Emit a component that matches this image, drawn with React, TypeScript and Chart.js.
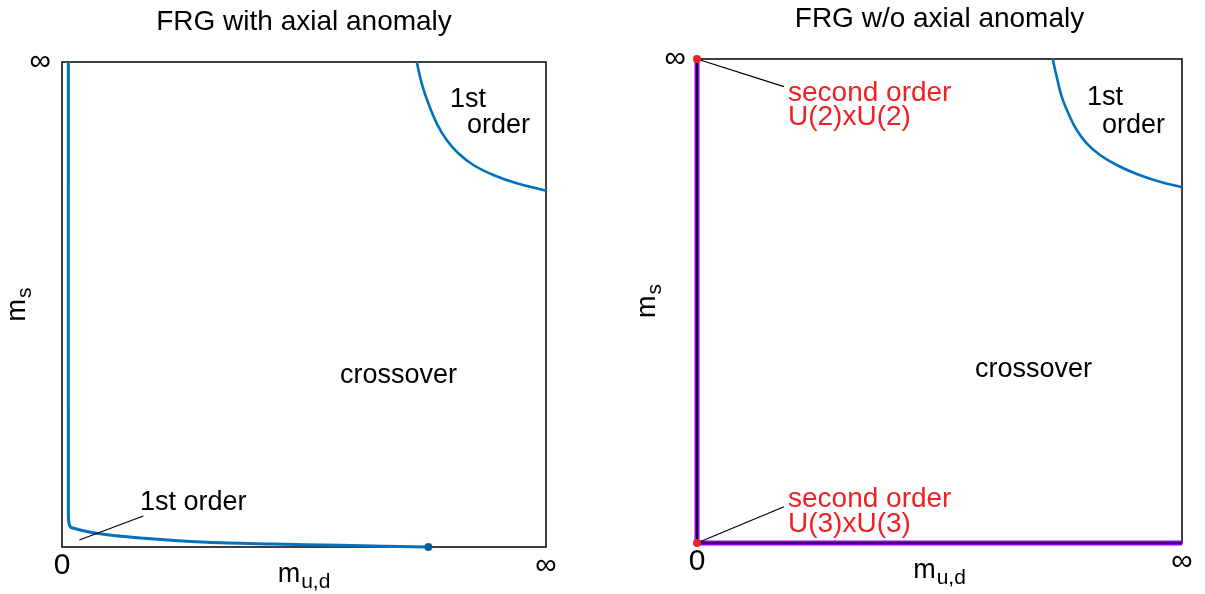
import { useEffect, useRef } from 'react';
import { Chart, registerables } from 'chart.js';

Chart.register(...registerables);
Chart.defaults.font.family = '"Liberation Sans", Arial, Helvetica, sans-serif';

// ---- tick labels (shared) ----
const xTickValues = [0, 1];
const xTickLabels = ['0', '∞'];
const yTickValues = [0, 1];
const yTickLabels = ['', '∞'];

// ---- left panel: FRG with axial anomaly ----
const leftLowerX = [0.0131, 0.0131, 0.0142, 0.0165, 0.02, 0.0717, 0.161, 0.299, 0.436, 0.574, 0.757];
const leftLowerY = [1.0, 0.07, 0.05, 0.043, 0.0398, 0.0282, 0.0186, 0.0097, 0.0062, 0.0035, 0.0];
const leftEndX = [0.757];
const leftEndY = [0.0];
const leftUpperX = [0.7329, 0.7432, 0.7568, 0.7742, 0.7948, 0.8188, 0.8498, 0.8911, 0.9395, 1.0];
const leftUpperY = [1.0, 0.956, 0.9148, 0.8736, 0.8392, 0.8118, 0.7876, 0.767, 0.7499, 0.7346];
const leftLeaderX = [0.0357, 0.168];
const leftLeaderY = [0.0144, 0.0639];

// ---- right panel: FRG w/o axial anomaly ----
const rightUpperX = [0.7334, 0.7416, 0.752, 0.7656, 0.7829, 0.8035, 0.8309, 0.8653, 0.9066, 0.9546, 1.0];
const rightUpperY = [1.0, 0.9635, 0.9221, 0.8878, 0.8533, 0.8258, 0.8017, 0.781, 0.7624, 0.7465, 0.7349];
const rightEdgeX = [0, 0, 1];
const rightEdgeY = [1, 0, 0];
const rightPointX = [0, 0];
const rightPointY = [1, 0];
const rightLeaderTopX = [0, 0.1794];
const rightLeaderTopY = [1, 0.9428];
const rightLeaderBottomX = [0, 0.1794];
const rightLeaderBottomY = [0, 0.075];

const BLUE = '#0072BD';
const DOT_BLUE = '#0b5d98';
const RED = '#ec2224';
const PURPLE = '#8a00f5';
const FONT = '"Liberation Sans", Arial, Helvetica, sans-serif';

const pts = (xs: number[], ys: number[]) => xs.map((x, i) => ({ x, y: ys[i] }));

type Txt = { text: string; x: number; y: number; color: string; size: number };
type PanelCfg = {
  title: string;
  texts: Txt[];
  width: number;
  left: number;
  padTop: number;
  padRight: number;
  yAxisWidth: number;
  xAxisHeight: number;
  msOffset: number;
  datasets: any[];
};

const line = (data: any[], color: string, width: number, order: number, extra: any = {}) => ({
  data,
  showLine: true,
  borderColor: color,
  backgroundColor: color,
  borderWidth: width,
  pointRadius: 0,
  clip: false,
  order,
  ...extra,
});
const dots = (data: any[], color: string, r: number, order: number) => ({
  data,
  showLine: false,
  pointRadius: r,
  pointBackgroundColor: color,
  pointBorderWidth: 0,
  clip: false,
  order,
});

const leftCfg: PanelCfg = {
  title: 'FRG with axial anomaly',
  width: 602,
  left: 0,
  padTop: 62,
  padRight: 56,
  yAxisWidth: 62,
  xAxisHeight: 47,
  msOffset: 37,
  texts: [
    { text: '1st order', x: 0.161, y: 0.0763, color: '#000', size: 27 },
    { text: '1st', x: 0.8017, y: 0.907, color: '#000', size: 27 },
    { text: 'order', x: 0.8368, y: 0.8536, color: '#000', size: 27 },
    { text: 'crossover', x: 0.5744, y: 0.338, color: '#000', size: 27 },
  ],
  datasets: [
    dots(pts(leftEndX, leftEndY), DOT_BLUE, 4, 0),
    line(pts(leftLeaderX, leftLeaderY), '#000', 1.2, 1),
    line(pts(leftLowerX, leftLowerY), BLUE, 3, 2, { tension: 0.3 }),
    line(pts(leftUpperX, leftUpperY), BLUE, 2.6, 2, { tension: 0.4 }),
  ],
};

const rightCfg: PanelCfg = {
  title: 'FRG w/o axial anomaly',
  width: 603,
  left: 602,
  padTop: 59,
  padRight: 23,
  yAxisWidth: 95,
  xAxisHeight: 51,
  msOffset: 42,
  texts: [
    { text: 'second order', x: 0.1876, y: 0.913, color: RED, size: 28 },
    { text: 'U(2)xU(2)', x: 0.1876, y: 0.8636, color: RED, size: 28 },
    { text: 'second order', x: 0.1876, y: 0.075, color: RED, size: 28 },
    { text: 'U(3)xU(3)', x: 0.1876, y: 0.0227, color: RED, size: 28 },
    { text: '1st', x: 0.804, y: 0.905, color: '#000', size: 27 },
    { text: 'order', x: 0.835, y: 0.847, color: '#000', size: 27 },
    { text: 'crossover', x: 0.573, y: 0.342, color: '#000', size: 27 },
  ],
  datasets: [
    dots(pts(rightPointX, rightPointY), RED, 4, 0),
    line(pts(rightLeaderTopX, rightLeaderTopY), '#000', 1.2, 1),
    line(pts(rightLeaderBottomX, rightLeaderBottomY), '#000', 1.2, 1),
    line(pts(rightEdgeX, rightEdgeY), '#000', 1, 2),
    line(pts(rightEdgeX, rightEdgeY), PURPLE, 5, 3),
    line(pts(rightUpperX, rightUpperY), BLUE, 2.6, 4, { tension: 0.4 }),
  ],
};

function drawSub(ctx: CanvasRenderingContext2D, main: string, sub: string, cx: number, base: number) {
  ctx.font = `27px ${FONT}`;
  const w1 = ctx.measureText(main).width;
  ctx.font = `21px ${FONT}`;
  const w2 = ctx.measureText(sub).width;
  const x0 = cx - (w1 + w2 + 1) / 2;
  ctx.textAlign = 'left';
  ctx.textBaseline = 'alphabetic';
  ctx.font = `27px ${FONT}`;
  ctx.fillText(main, x0, base);
  ctx.font = `21px ${FONT}`;
  ctx.fillText(sub, x0 + w1 + 1, base + 6);
}

function makePlugin(cfg: PanelCfg) {
  return {
    id: 'panelDecor',
    beforeDatasetsDraw(chart: any) {
      const { ctx, chartArea: a } = chart;
      ctx.save();
      ctx.strokeStyle = '#000';
      ctx.lineWidth = 1.5;
      ctx.strokeRect(a.left, a.top, a.right - a.left, a.bottom - a.top);
      ctx.restore();
    },
    afterDatasetsDraw(chart: any) {
      const { ctx, chartArea: a, scales } = chart;
      ctx.save();
      ctx.fillStyle = '#000';
      ctx.font = `28px ${FONT}`;
      ctx.textAlign = 'center';
      ctx.textBaseline = 'alphabetic';
      ctx.fillText(cfg.title, (a.left + a.right) / 2, a.top - 32);
      ctx.textAlign = 'left';
      for (const t of cfg.texts) {
        ctx.font = `${t.size}px ${FONT}`;
        ctx.fillStyle = t.color;
        ctx.fillText(t.text, scales.x.getPixelForValue(t.x), scales.y.getPixelForValue(t.y));
      }
      ctx.fillStyle = '#000';
      drawSub(ctx, 'm', 'u,d', (a.left + a.right) / 2, a.bottom + 35);
      ctx.save();
      ctx.translate(a.left - cfg.msOffset, (a.top + a.bottom) / 2);
      ctx.rotate(-Math.PI / 2);
      drawSub(ctx, 'm', 's', 0, 0);
      ctx.restore();
      ctx.restore();
    },
  };
}

function Panel({ cfg }: { cfg: PanelCfg }) {
  const ref = useRef<HTMLCanvasElement>(null);
  useEffect(() => {
    if (!ref.current) return;
    const chart = new Chart(ref.current, {
      type: 'scatter',
      data: { datasets: cfg.datasets },
      options: {
        animation: false,
        responsive: false,
        maintainAspectRatio: false,
        devicePixelRatio: 1,
        events: [],
        layout: { padding: { left: 0, right: cfg.padRight, top: cfg.padTop, bottom: 0 } },
        plugins: { legend: { display: false }, tooltip: { enabled: false }, title: { display: false } },
        scales: {
          x: {
            type: 'linear',
            min: 0,
            max: 1,
            grid: { display: false, drawTicks: false },
            border: { display: false },
            afterBuildTicks: (s: any) => {
              s.ticks = xTickValues.map((v) => ({ value: v }));
            },
            afterFit: (s: any) => {
              s.height = cfg.xAxisHeight;
            },
            ticks: {
              padding: 1,
              color: '#000',
              font: { size: 30 },
              maxRotation: 0,
              autoSkip: false,
              callback: (_v: any, i: number) => xTickLabels[i] ?? '',
            },
          },
          y: {
            type: 'linear',
            min: 0,
            max: 1,
            grid: { display: false, drawTicks: false },
            border: { display: false },
            afterBuildTicks: (s: any) => {
              s.ticks = yTickValues.map((v) => ({ value: v }));
            },
            afterFit: (s: any) => {
              s.width = cfg.yAxisWidth;
            },
            ticks: {
              padding: 11,
              color: '#000',
              font: { size: 30 },
              autoSkip: false,
              callback: (_v: any, i: number) => yTickLabels[i] ?? '',
            },
          },
        },
      } as any,
      plugins: [makePlugin(cfg)],
    });
    return () => chart.destroy();
  }, []);
  return (
    <canvas
      ref={ref}
      width={cfg.width}
      height={594}
      style={{ position: 'absolute', left: cfg.left, top: 0, width: cfg.width, height: 594 }}
    />
  );
}

export default function App() {
  return (
    <div style={{ position: 'fixed', left: 0, top: 0, width: 1205, height: 594, background: '#fff', overflow: 'hidden' }}>
      <Panel cfg={leftCfg} />
      <Panel cfg={rightCfg} />
    </div>
  );
}
